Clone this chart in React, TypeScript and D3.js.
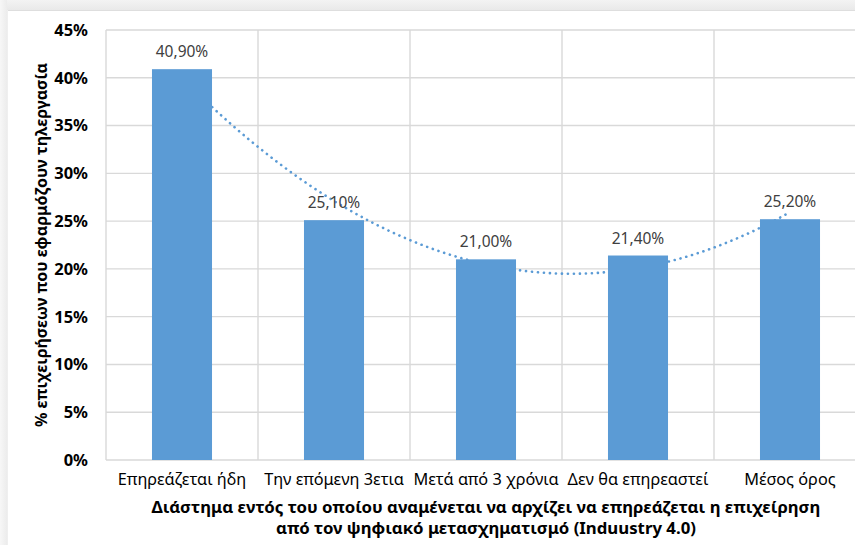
import React from "react";
import * as d3 from "d3";

// Share of firms applying telework, by when digital transformation is expected to affect them
const categories: string[] = [
  "Επηρεάζεται ήδη",
  "Την επόμενη 3ετια",
  "Μετά από 3 χρόνια",
  "Δεν θα επηρεαστεί",
  "Μέσος όρος",
];
const values: number[] = [40.9, 25.1, 21.0, 21.4, 25.2];
const valueLabels: string[] = ["40,90%", "25,10%", "21,00%", "21,40%", "25,20%"];
const yTicks: number[] = [0, 5, 10, 15, 20, 25, 30, 35, 40, 45];
const yTitle = "% επιχειρήσεων που εφαρμόζουν τηλεργασία";
const xTitleLines: string[] = [
  "Διάστημα εντός του οποίου αναμένεται να αρχίζει να επηρεάζεται η επιχείρηση",
  "από τον ψηφιακό μετασχηματισμό (Induustry 4.0)",
];

const W = 855;
const H = 545;
const plot = { left: 106, right: 866, top: 30, bottom: 460 };
const BAR = "#5b9bd5";
const GRID = "#d9d9d9";
const FONT = "'Noto Sans', 'Open Sans', sans-serif";

// Least-squares polynomial of order 2 (trendline) through (i+1, v)
function quadFit(ys: number[]): (x: number) => number {
  const n = ys.length;
  const xs = ys.map((_, i) => i + 1);
  const s = (f: (x: number, y: number) => number) =>
    xs.reduce((acc, x, i) => acc + f(x, ys[i]), 0);
  const S0 = n,
    S1 = s((x) => x),
    S2 = s((x) => x * x),
    S3 = s((x) => x ** 3),
    S4 = s((x) => x ** 4);
  const T0 = s((_, y) => y),
    T1 = s((x, y) => x * y),
    T2 = s((x, y) => x * x * y);
  // Solve normal equations by Cramer's rule
  const det3 = (m: number[][]) =>
    m[0][0] * (m[1][1] * m[2][2] - m[1][2] * m[2][1]) -
    m[0][1] * (m[1][0] * m[2][2] - m[1][2] * m[2][0]) +
    m[0][2] * (m[1][0] * m[2][1] - m[1][1] * m[2][0]);
  const A = [
    [S0, S1, S2],
    [S1, S2, S3],
    [S2, S3, S4],
  ];
  const B = [T0, T1, T2];
  const D = det3(A);
  const coef = [0, 1, 2].map((k) =>
    det3(A.map((row, r) => row.map((v, c) => (c === k ? B[r] : v)))) / D
  );
  return (x: number) => coef[0] + coef[1] * x + coef[2] * x * x;
}

export default function App() {
  const x = d3
    .scaleBand<string>()
    .domain(categories)
    .range([plot.left, plot.right])
    .paddingInner(0.605)
    .paddingOuter(0.3025);
  const y = d3.scaleLinear().domain([0, 45]).range([plot.bottom, plot.top]);
  const step = x.step();
  const bw = x.bandwidth();
  const center = (c: string) => (x(c) as number) + bw / 2;
  const boundaries = d3.range(categories.length + 1).map((i) => plot.left + i * step);

  const trend = quadFit(values);
  const tx = d3
    .scaleLinear()
    .domain([1, categories.length])
    .range([center(categories[0]), center(categories[categories.length - 1])]);
  const trendPts = d3
    .range(1, categories.length + 0.001, 0.02)
    .map((t) => [tx(t), y(trend(t))] as [number, number]);
  const trendPath = d3.line().curve(d3.curveLinear)(trendPts) || "";

  return (
    <svg
      width={W}
      height={H}
      style={{ position: "absolute", left: 0, top: 0, display: "block" }}
      fontFamily={FONT}
    >
      <defs>
        <linearGradient id="topShade" x1="0" y1="0" x2="0" y2="1">
          <stop offset="0" stopColor="#f3f3f3" />
          <stop offset="1" stopColor="#e9e9e9" />
        </linearGradient>
        <linearGradient id="leftShade" x1="0" y1="0" x2="1" y2="0">
          <stop offset="0" stopColor="#f7f7f7" />
          <stop offset="1" stopColor="#ececec" />
        </linearGradient>
        <clipPath id="canvas">
          <rect x={7} y={10} width={W - 7} height={H - 10} />
        </clipPath>
      </defs>
      <rect x={0} y={0} width={W} height={H} fill="#ffffff" />
      <rect x={0} y={0} width={W} height={10} fill="url(#topShade)" />
      <rect x={0} y={0} width={7} height={H} fill="url(#leftShade)" />
      <line x1={7} x2={W} y1={10.5} y2={10.5} stroke="#dedede" strokeWidth={1} />
      <line x1={7.5} x2={7.5} y1={10} y2={H} stroke="#efefef" strokeWidth={1} />

      <g clipPath="url(#canvas)">
        {/* horizontal gridlines */}
        {yTicks.map((t) => (
          <line
            key={"h" + t}
            x1={plot.left}
            x2={plot.right}
            y1={y(t)}
            y2={y(t)}
            stroke={GRID}
            strokeWidth={1.4}
          />
        ))}
        {/* vertical gridlines at category boundaries */}
        {boundaries.map((bx, i) => (
          <line
            key={"v" + i}
            x1={bx}
            x2={bx}
            y1={plot.top}
            y2={plot.bottom}
            stroke={GRID}
            strokeWidth={1.4}
          />
        ))}

        {/* polynomial trendline, behind the bars */}
        <path
          d={trendPath}
          fill="none"
          stroke={BAR}
          strokeWidth={2.6}
          strokeLinecap="round"
          strokeDasharray="0.1 5.9"
        />

        {/* bars */}
        {categories.map((c, i) => (
          <rect
            key={c}
            x={x(c)}
            y={y(values[i])}
            width={bw}
            height={plot.bottom - y(values[i])}
            fill={BAR}
          />
        ))}

        {/* value labels */}
        {categories.map((c, i) => (
          <text
            key={"l" + c}
            x={center(c)}
            y={y(values[i]) - 12}
            textAnchor="middle"
            fontSize={15.5}
            fill="#404040"
          >
            {valueLabels[i]}
          </text>
        ))}
      </g>

      {/* y tick labels */}
      {yTicks.map((t) => (
        <text
          key={"yt" + t}
          x={88}
          y={y(t)}
          dy="0.36em"
          textAnchor="end"
          fontSize={16.5}
          fontWeight={700}
          fill="#000"
        >
          {t + "%"}
        </text>
      ))}

      {/* category labels */}
      {categories.map((c) => (
        <text
          key={"xt" + c}
          x={center(c)}
          y={485}
          textAnchor="middle"
          fontSize={16.3}
          fill="#000"
        >
          {c}
        </text>
      ))}

      {/* axis titles */}
      <text
        transform={`translate(47, ${(plot.top + plot.bottom) / 2}) rotate(-90)`}
        textAnchor="middle"
        fontSize={16}
        fontWeight={700}
        fill="#000"
      >
        {yTitle}
      </text>
      {xTitleLines.map((line, i) => (
        <text
          key={"xtl" + i}
          x={486}
          y={513 + i * 21}
          textAnchor="middle"
          fontSize={16.8}
          fontWeight={700}
          fill="#000"
        >
          {line}
        </text>
      ))}
    </svg>
  );
}
